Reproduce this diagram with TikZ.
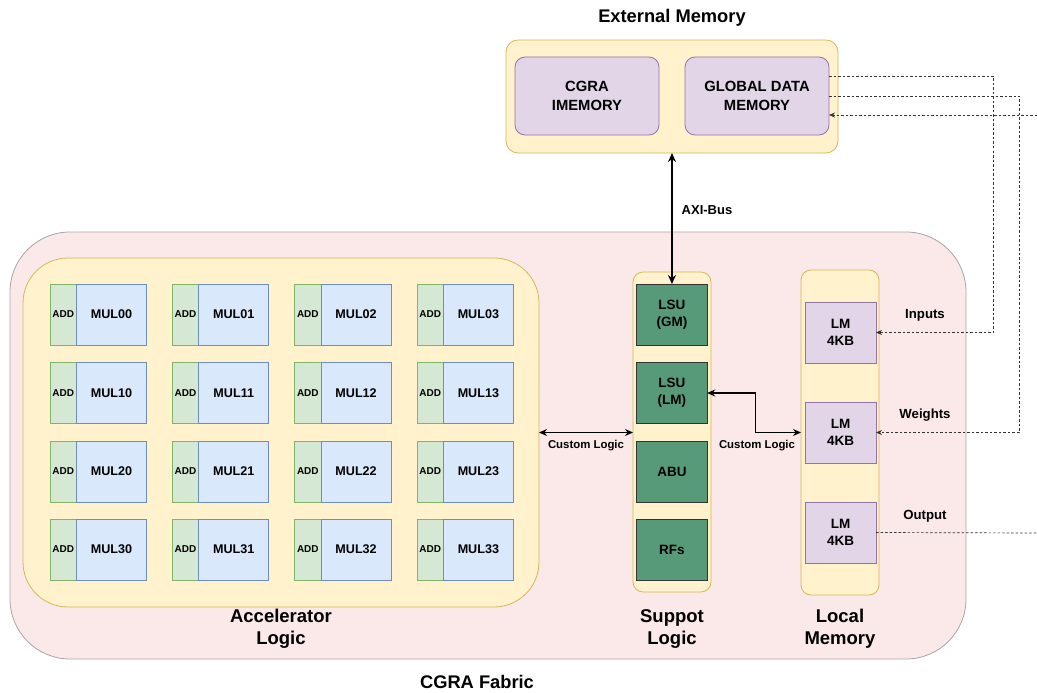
\documentclass[tikz,border=0pt]{standalone}
\usepackage{fontspec}
\setmainfont{Liberation Sans}
\usetikzlibrary{arrows.meta}
\definecolor{ylwfill}{HTML}{FFF2CC}
\definecolor{ylwline}{HTML}{D6B656}
\definecolor{prpfill}{HTML}{E1D5E7}
\definecolor{prpline}{HTML}{9673A6}
\definecolor{pinkfill}{HTML}{FBE9E9}
\definecolor{pinkline}{HTML}{A6A6A6}
\definecolor{addfill}{HTML}{D5E8D4}
\definecolor{addline}{HTML}{82B366}
\definecolor{mulfill}{HTML}{DAE8FC}
\definecolor{mulline}{HTML}{6C8EBF}
\definecolor{unitfill}{HTML}{569A79}
\definecolor{dotline}{HTML}{333333}
\tikzset{
  every node/.style={inner sep=0pt, outer sep=0pt, font=\bfseries, align=center},
  ylwbox/.style={draw=ylwline, fill=ylwfill, line width=0.8pt},
  prpbox/.style={draw=prpline, fill=prpfill, line width=0.8pt},
  addbox/.style={draw=addline, fill=addfill, line width=0.8pt, anchor=north west,
    minimum width=26.5pt, minimum height=61pt, font=\bfseries\fontsize{10}{12}\selectfont},
  mulbox/.style={draw=mulline, fill=mulfill, line width=0.8pt, anchor=north west,
    minimum width=70pt, minimum height=61pt, font=\bfseries\fontsize{12.6}{15}\selectfont},
  unitbox/.style={draw=black!80, fill=unitfill, line width=0.8pt, anchor=north west,
    minimum width=70.5pt, minimum height=61pt, font=\bfseries\fontsize{13.5}{17}\selectfont},
  lmbox/.style={prpbox, anchor=north west, minimum width=71pt, minimum height=61pt,
    font=\bfseries\fontsize{13.5}{17}\selectfont},
  bus/.style={line width=1.6pt, {Stealth[length=9pt,width=8pt]}-{Stealth[length=9pt,width=8pt]}},
  custom/.style={line width=1.2pt, {Stealth[length=8pt,width=7pt]}-{Stealth[length=8pt,width=7pt]}},
  feed/.style={draw=dotline, line width=0.7pt, dash pattern=on 2.5pt off 2pt},
  feedtip/.style={feed, -{Stealth[length=6pt,width=5pt]}},
  grouplabel/.style={font=\bfseries\fontsize{18.5}{22}\selectfont},
  titlelabel/.style={font=\bfseries\fontsize{18.3}{22}\selectfont},
  smalllabel/.style={font=\bfseries\fontsize{11.4}{13}\selectfont},
  sidelabel/.style={font=\bfseries\fontsize{13.2}{15}\selectfont},
}
\begin{document}
\begin{tikzpicture}[x=1pt, y=-1pt]
\useasboundingbox (0,0) rectangle (1037,693);

% External memory block
\node[titlelabel] (exttitle) at (672,18) {External Memory};
\node[ylwbox, anchor=north west, minimum width=332pt, minimum height=113pt, rounded corners=12pt] (extmem) at (506,40) {};
\node[prpbox, anchor=north west, minimum width=144pt, minimum height=78pt, rounded corners=10pt,
  font=\bfseries\fontsize{14.8}{19}\selectfont] (imem) at (515,57) {CGRA\\IMEMORY};
\node[prpbox, anchor=north west, minimum width=144pt, minimum height=78pt, rounded corners=10pt,
  font=\bfseries\fontsize{14.8}{19}\selectfont] (gdm) at (685,57) {GLOBAL DATA\\MEMORY};

% CGRA fabric
\node[draw=pinkline, fill=pinkfill, line width=0.8pt, anchor=north west, minimum width=956pt,
  minimum height=427pt, rounded corners=60pt] (fabric) at (10,232) {};
\node[titlelabel] (fabtitle) at (477,682) {CGRA Fabric};

% Accelerator logic: 4x4 array of ADD/MUL tiles
\node[ylwbox, anchor=north west, minimum width=516pt, minimum height=349pt, rounded corners=45pt] (acc) at (23,258) {};
\foreach \r/\y in {0/284,1/362.5,2/441,3/519}{
  \foreach \c/\x in {0/50,1/172.3,2/294.6,3/416.9}{
    \node[addbox] (add\r\c) at (\x,\y) {ADD};
    \node[mulbox] (mul\r\c) at (add\r\c.north east) {MUL\r\c};
  }
}
\node[grouplabel] (acclabel) at (281,629) {Accelerator\\Logic};

% Support logic column
\node[ylwbox, anchor=north west, minimum width=78pt, minimum height=320pt, rounded corners=10pt] (sup) at (633,272) {};
\node[unitbox] (lsugm) at (636.7,284) {LSU\\(GM)};
\node[unitbox] (lsulm) at (636.7,362.5) {LSU\\(LM)};
\node[unitbox] (abu) at (636.7,441) {ABU};
\node[unitbox] (rfs) at (636.7,519) {RFs};
\node[grouplabel] (suplabel) at (672,629) {Suppot\\Logic};

% Local memory column
\node[ylwbox, anchor=north west, minimum width=78pt, minimum height=325pt, rounded corners=10pt] (lmcol) at (801,270) {};
\node[lmbox] (lm1) at (805,302) {LM\\4KB};
\node[lmbox] (lm2) at (805,402) {LM\\4KB};
\node[lmbox] (lm3) at (805,502) {LM\\4KB};
\node[grouplabel] (lmlabel) at (840,629) {Local\\Memory};

% Buses
\draw[bus] (extmem.south) -- (lsugm.north);
\node[smalllabel, font=\bfseries\fontsize{13}{15}\selectfont] (axilabel) at (707,210) {AXI-Bus};
\draw[custom] (acc.east) -- (acc.east -| sup.west);
\node[smalllabel] (cl1) at (586,446) {Custom Logic};
\draw[custom] (lsulm.east) -- ++(48,0) |- (lmcol.west);
\node[smalllabel] (cl2) at (757,446) {Custom Logic};

% Data feeds between global memory and local memories
\coordinate (extin) at (1037,115);
\coordinate (extout) at (1037,533);
\draw[feedtip] ([yshift=20pt]gdm.east) -- ++(164,0) |- (lm1.east);
\draw[feedtip] (gdm.east) -- ++(190,0) |- (lm2.east);
\draw[feedtip] (extin) -- (extin -| gdm.east);
\draw[feed] (lm3.east) -- (extout);
\node[sidelabel] (inlabel) at (925,315) {Inputs};
\node[sidelabel] (wlabel) at (925,415) {Weights};
\node[sidelabel] (outlabel) at (925,516) {Output};
\end{tikzpicture}
\end{document}
